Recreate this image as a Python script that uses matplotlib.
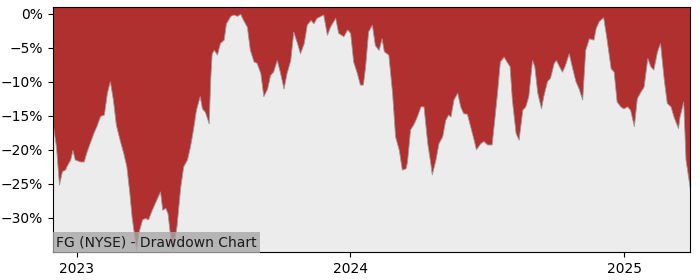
import numpy as np
import pandas as pd
from matplotlib import pyplot as plt
import matplotlib.dates as mdates
from matplotlib.ticker import FuncFormatter

# Days counted from 2023-01-01
days_from_2023 = [
    -32, -28, -24, -20, -16, -14, -9, -6, -3, 4, 9, 13, 17, 22, 26, 31, 36, 40, 44, 48,
    52, 57, 62, 66, 70, 73, 76, 79, 82, 87, 91, 95, 100, 106, 111, 114, 118, 121, 124, 128,
    133, 138, 142, 147, 151, 155, 159, 164, 167, 171, 176, 178, 180, 183, 187, 191, 196, 199,
    205, 209, 214, 218, 222, 227, 231, 236, 240, 245, 249, 254, 258, 262, 267, 271, 276, 280,
    285, 289, 294, 298, 303, 307, 312, 316, 320, 329, 334, 338, 345, 349, 356, 361, 365, 369,
    374, 378, 382, 385, 389, 394, 398, 403, 407, 410, 416, 421, 425, 430, 434, 439, 441, 445,
    450, 454, 459, 463, 468, 472, 474, 479, 483, 488, 492, 496, 499, 503, 508, 512, 516, 521,
    525, 530, 533, 539, 543, 548, 554, 557, 561, 565, 570, 575, 578, 581, 586, 590, 595, 599,
    603, 608, 611, 615, 620, 623, 628, 632, 637, 640, 644, 648, 652, 657, 661, 666, 670, 675,
    679, 684, 690, 693, 697, 703, 707, 713, 717, 721, 726, 730, 735, 739, 744, 748, 753, 757,
    762, 766, 770, 775, 779, 784, 788, 793, 797, 803, 805, 810, 813, 819,
]

# Drawdown in percent
drawdown_pct = [
    -16.5, -19.5, -25.1, -23.1, -22.9, -22.4, -21.4, -20.0, -21.4, -21.7, -21.7, -20.2, -19.0,
    -17.5, -16.5, -15.0, -14.8, -11.6, -9.9, -12.6, -16.3, -18.5, -20.5, -22.4, -26.3, -29.8,
    -32.2, -34.7, -32.2, -30.2, -30.0, -30.2, -28.8, -27.3, -26.1, -28.8, -28.5, -29.3, -32.2,
    -34.7, -31.2, -25.4, -22.4, -21.4, -19.5, -17.0, -14.1, -12.1, -13.9, -14.4, -16.1, -9.7,
    -5.8, -5.3, -6.0, -4.3, -3.8, -1.4, -0.3, -0.1, -0.3, 0.0, -0.9, -1.9, -5.3, -7.0, -7.2,
    -8.7, -12.1, -11.0, -9.0, -8.5, -6.8, -8.5, -11.0, -8.7, -6.8, -2.6, -4.3, -5.8, -4.3,
    -1.6, -0.9, -1.4, -0.6, -0.1, -3.1, -1.9, -0.6, -2.8, -3.3, -2.3, -2.8, -7.0, -8.7, -10.4,
    -10.4, -7.7, -2.6, -1.6, -4.6, -5.3, -3.6, -5.5, -6.0, -11.6, -18.0, -20.0, -22.9, -22.7,
    -21.7, -17.0, -16.1, -15.1, -13.6, -13.6, -19.0, -21.9, -23.6, -21.4, -19.0, -18.0, -15.6,
    -14.8, -15.1, -12.6, -11.6, -13.6, -14.6, -14.7, -16.4, -18.5, -19.9, -19.0, -18.7, -19.2,
    -19.2, -16.1, -11.8, -7.0, -6.3, -7.2, -7.7, -12.6, -17.5, -18.5, -14.1, -13.6, -12.1,
    -6.8, -7.7, -11.6, -13.9, -12.1, -9.9, -9.4, -7.2, -6.8, -7.7, -8.5, -7.5, -5.8, -7.7,
    -9.9, -10.9, -12.6, -5.3, -3.6, -3.8, -2.1, -1.1, -0.5, -3.3, -8.0, -8.5, -12.9, -13.6,
    -13.9, -13.6, -14.1, -16.5, -12.4, -11.4, -10.7, -6.5, -7.7, -8.2, -5.5, -4.3, -9.7,
    -13.1, -13.6, -15.1, -16.8, -15.1, -12.9, -21.4, -25.8,
]

year_ticks = ['2023-01-01', '2024-01-01', '2025-01-01']
title_text = 'FG (NYSE) - Drawdown Chart'

dates = pd.Timestamp('2023-01-01') + pd.to_timedelta(days_from_2023, unit='D')
dd = np.array(drawdown_pct)

fig = plt.figure(figsize=(7, 2.8), dpi=100)
ax = fig.add_axes([0.0757, 0.1, 0.91, 0.875])
ax.set_facecolor('#ececec')

y_top = 1
# red area runs from the drawdown curve up to the top of the plot
ax.fill_between(dates, dd, y_top, color='#b03030', linewidth=0.6, edgecolor='#9a9a9a')

ax.set_xlim(dates[0], dates[-1])
ax.set_ylim(-35, y_top)
ax.set_yticks([0, -5, -10, -15, -20, -25, -30])
ax.yaxis.set_major_formatter(FuncFormatter(lambda v, p: f'{v:.0f}%'.replace('-', '\u2212')))
ax.set_xticks(pd.to_datetime(year_ticks))
ax.xaxis.set_major_formatter(mdates.DateFormatter('%Y'))
ax.tick_params(labelsize=10)

ax.text(0.005, 0.012, title_text, transform=ax.transAxes, fontsize=10, color='#1a1a1a',
        ha='left', va='bottom',
        bbox=dict(facecolor='#a8a8a8', edgecolor='none', alpha=0.8, pad=2.5))

fig.savefig('out.png', dpi=100)
